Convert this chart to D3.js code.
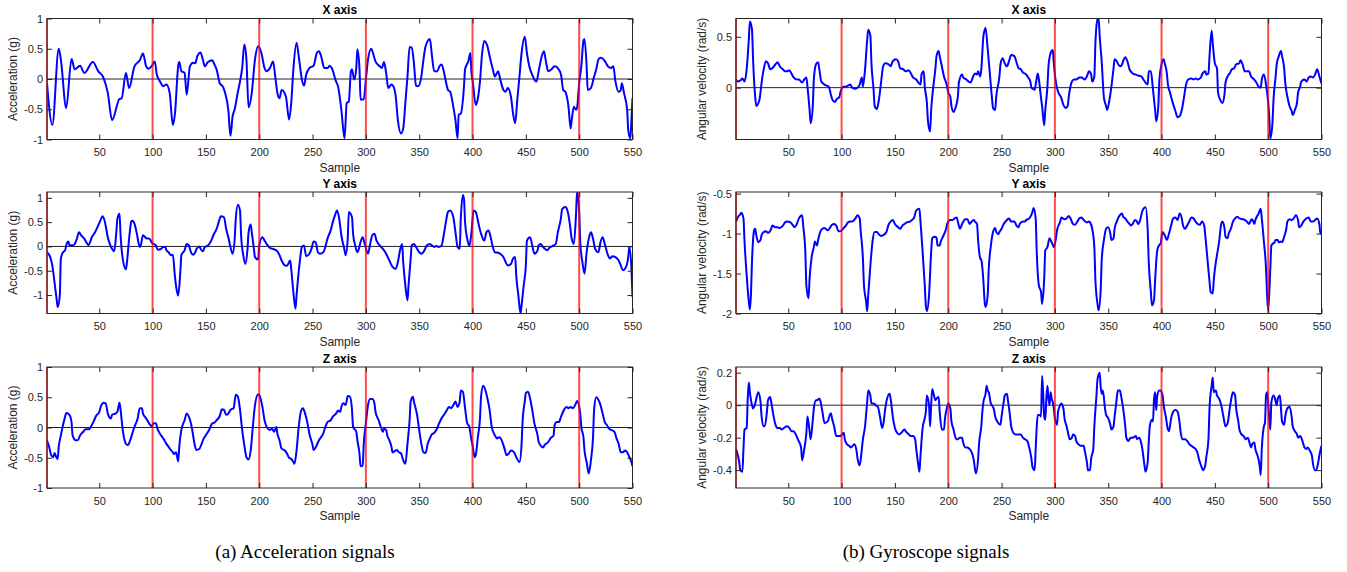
<!DOCTYPE html>
<meta charset="utf-8">
<script src="https://d3js.org/d3.v7.min.js"></script>
<style>
  body { margin: 0; background: #fff; }
  text { font-family: "Liberation Sans", Arial, sans-serif; fill: #262626; }
</style>
<div id="chart"></div>
<script>

// x axis ticks and the red markers where each stride starts
var sampleTicks = [50, 100, 150, 200, 250, 300, 350, 400, 450, 500, 550];
var strideStarts = [1, 100, 200, 300, 400, 500];

// y ticks of each panel
var accTicks = [-1, -0.5, 0, 0.5, 1];
var gyroXTicks = [0, 0.5];
var gyroYTicks = [-2, -1.5, -1, -0.5];
var gyroZTicks = [-0.4, -0.2, 0, 0.2];

// [sample, value]
var accX = [[1,-0.07],[6,-0.76],[12,0.5],[14,0.32],[19,-0.48],[24,0.33],[27,0.16],[32,0.22],[36,0.10],[44,0.28],[49,0.13],[54,0.02],[58,-0.23],[62,-0.68],[69,-0.33],[71,-0.32],[75,0.10],[78,-0.15],[83,0.21],[88,0.31],[91,0.42],[94,0.21],[96,0.17],[99,0.21],[102,0.29],[104,0.07],[107,-0.04],[110,-0.12],[113,-0.09],[116,-0.23],[119,-0.76],[121,-0.57],[124,0.21],[125,0.28],[127,0.13],[130,0.10],[132,-0.26],[135,0.21],[138,0.27],[140,0.26],[142,0.38],[145,0.44],[147,0.33],[149,0.21],[152,0.28],[156,0.31],[158,0.24],[160,0.16],[163,-0.07],[166,-0.13],[168,-0.23],[171,-0.51],[173,-0.94],[175,-0.62],[177,-0.5],[180,-0.21],[182,-0.04],[184,0.18],[186,0.57],[188,0.32],[190,-0.47],[193,-0.23],[196,0.32],[199,0.54],[202,0.43],[205,0.18],[207,0.13],[210,0.18],[213,0.29],[215,0.04],[217,-0.23],[219,-0.32],[221,-0.18],[225,-0.29],[228,-0.67],[230,-0.4],[232,0.16],[235,0.6],[237,0.38],[240,-0.01],[242,-0.11],[244,0.07],[247,0.18],[251,0.22],[254,0.43],[256,0.46],[258,0.38],[261,0.18],[264,0.18],[266,0.22],[268,0.18],[272,-0.04],[274,-0.13],[277,-0.51],[280,-0.98],[282,-0.4],[284,-0.37],[286,0.13],[287,0.16],[289,-0.01],[291,0.18],[292,0.49],[294,0.18],[295,-0.34],[298,-0.34],[300,-0.01],[302,0.32],[305,0.5],[307,0.41],[309,0.29],[313,0.21],[315,0.18],[317,0.28],[319,0.10],[321,-0.15],[324,-0.09],[326,-0.13],[328,-0.29],[330,-0.68],[333,-0.9],[335,-0.82],[337,-0.4],[339,0.04],[341,0.53],[343,0.52],[345,0.27],[347,-0.11],[349,-0.12],[352,0.04],[354,0.32],[356,0.54],[360,0.66],[362,0.38],[364,0.13],[367,0.13],[369,0.21],[371,0.24],[373,0.13],[375,-0.04],[377,-0.18],[379,-0.21],[382,-0.46],[384,-0.68],[386,-0.98],[387,-0.59],[389,-0.57],[392,-0.12],[393,0.16],[396,0.29],[398,0.43],[399,0.10],[400,-0.01],[403,-0.43],[404,-0.4],[407,-0.04],[409,0.43],[411,0.63],[414,0.54],[416,0.38],[419,0.16],[421,0.04],[424,0.13],[426,-0.01],[429,-0.18],[431,-0.21],[433,-0.15],[436,-0.29],[438,-0.57],[440,-0.73],[442,-0.34],[444,0.04],[446,0.43],[449,0.70],[451,0.43],[454,0.16],[456,0.07],[458,-0.01],[460,-0.04],[462,0.13],[465,0.38],[467,0.46],[469,0.27],[471,0.13],[474,0.16],[477,0.21],[480,0.18],[483,0.07],[485,-0.18],[487,-0.21],[490,-0.46],[492,-0.82],[493,-0.68],[495,-0.46],[497,-0.51],[498,-0.48],[500,-0.07],[502,0.21],[504,0.63],[505,0.66],[507,0.21],[508,-0.18],[511,-0.15],[514,0.04],[516,0.16],[518,0.32],[520,0.35],[523,0.32],[525,0.27],[527,0.21],[530,0.18],[532,0.21],[534,-0.04],[537,-0.21],[539,-0.18],[540,-0.07],[542,-0.23],[545,-0.51],[546,-0.84],[548,-0.98],[549,-0.68],[550,-0.32]];

var accY = [[1,-0.12],[4,-0.22],[6,-0.39],[8,-0.73],[10,-1.08],[11,-1.25],[13,-1.01],[14,-0.25],[16,-0.12],[18,-0.08],[19,0.02],[21,0.10],[22,0.03],[25,0.02],[27,0.05],[29,0.16],[31,0.29],[33,0.23],[36,0.16],[38,0.08],[40,0.03],[43,0.19],[46,0.29],[49,0.43],[51,0.53],[53,0.62],[55,0.53],[58,0.19],[62,-0.05],[64,-0.10],[66,0.29],[67,0.57],[69,0.67],[70,0.23],[72,-0.25],[75,-0.47],[76,-0.32],[78,0.16],[80,0.51],[81,0.53],[83,0.47],[85,0.29],[88,-0.01],[89,0.03],[91,0.23],[94,0.17],[97,0.16],[99,0.09],[101,0.05],[103,0.02],[105,-0.07],[108,-0.05],[110,-0.01],[112,-0.01],[113,-0.08],[115,-0.12],[117,-0.18],[119,-0.17],[121,-0.63],[123,-0.94],[124,-1.01],[126,-0.53],[127,-0.18],[130,-0.08],[132,0.05],[134,0.02],[136,-0.12],[138,-0.17],[140,-0.12],[141,-0.06],[144,0],[145,-0.05],[147,-0.10],[149,-0.01],[152,0.02],[155,0.12],[157,0.23],[160,0.36],[162,0.5],[164,0.62],[167,0.60],[169,0.36],[171,0.19],[173,-0.01],[175,-0.15],[177,0.16],[178,0.57],[180,0.86],[182,0.74],[183,0.23],[185,-0.18],[187,-0.36],[189,-0.05],[190,0.29],[192,0.45],[193,0.29],[195,-0.05],[196,-0.22],[199,-0.27],[200,0.02],[203,0.19],[205,0.12],[207,0.05],[210,-0.03],[214,-0.06],[217,-0.10],[219,-0.18],[221,-0.29],[224,-0.39],[226,-0.40],[229,-0.29],[230,-0.46],[232,-0.94],[234,-1.28],[235,-1.01],[238,-0.32],[240,-0.01],[242,0.02],[244,-0.2],[247,-0.15],[249,-0.05],[251,0.10],[253,0.08],[255,-0.12],[257,-0.15],[260,-0.12],[262,-0.01],[264,0.16],[267,0.33],[269,0.5],[271,0.64],[273,0.74],[275,0.57],[277,0.23],[280,-0.08],[281,-0.18],[283,0.16],[284,0.71],[287,0.60],[288,0.26],[290,0.02],[292,-0.12],[293,-0.08],[295,0.09],[297,0.19],[299,0.05],[302,-0.15],[304,0.05],[306,0.23],[308,0.26],[310,0.12],[313,0.02],[316,-0.05],[319,-0.15],[322,-0.29],[325,-0.42],[328,-0.46],[330,-0.32],[332,-0.08],[334,0.05],[335,-0.32],[337,-0.80],[339,-1.11],[340,-0.80],[342,-0.25],[343,0.02],[345,0.05],[347,-0.01],[350,-0.12],[352,-0.15],[355,-0.08],[357,0.02],[360,0.05],[362,0.02],[364,-0.01],[366,0.01],[368,-0.01],[371,0.02],[373,0.23],[375,0.5],[377,0.71],[379,0.74],[382,0.60],[384,0.29],[386,-0.01],[388,-0.05],[389,0.57],[391,1.06],[392,0.98],[393,0.5],[395,0.16],[397,0.01],[399,0.29],[401,0.74],[403,0.71],[406,0.43],[408,0.26],[411,0.12],[413,0.29],[415,0.33],[417,0.19],[419,-0.01],[421,-0.12],[424,-0.13],[426,-0.15],[429,-0.22],[431,-0.32],[433,-0.39],[436,-0.36],[438,-0.25],[440,-0.22],[441,-0.6],[443,-1.01],[445,-1.38],[446,-1.21],[448,-0.80],[450,-0.39],[451,0.12],[454,0.19],[456,0.02],[458,-0.15],[461,-0.08],[462,0.02],[464,0.05],[466,-0.01],[468,-0.05],[470,-0.08],[472,-0.03],[476,0.02],[478,0.05],[480,0.29],[483,0.60],[484,0.77],[487,0.81],[489,0.74],[491,0.5],[493,0.16],[495,0.05],[497,0.64],[498,1.12],[500,0.71],[501,0.09],[503,-0.32],[505,-0.56],[507,-0.12],[509,0.16],[511,0.29],[513,0.16],[515,-0.05],[518,-0.12],[520,0.09],[522,0.19],[524,0.05],[527,-0.18],[529,-0.25],[531,-0.2],[534,-0.22],[537,-0.29],[539,-0.39],[541,-0.49],[544,-0.42],[546,-0.22],[547,-0.01],[549,-0.46],[550,-1.04]];

var accZ = [[1,-0.21],[3,-0.32],[5,-0.46],[7,-0.49],[8,-0.42],[10,-0.5],[11,-0.52],[12,-0.32],[14,-0.13],[15,-0.04],[18,0.18],[19,0.24],[22,0.21],[24,0.09],[25,-0.13],[28,-0.21],[30,-0.21],[32,-0.13],[35,-0.07],[37,-0.03],[40,-0.03],[41,-0.02],[43,0.04],[45,0.11],[47,0.19],[50,0.26],[52,0.37],[54,0.41],[56,0.40],[58,0.23],[61,0.15],[62,0.21],[65,0.23],[67,0.26],[69,0.41],[70,0.29],[72,-0.04],[75,-0.27],[77,-0.29],[79,-0.21],[81,-0.1],[83,0.01],[86,0.15],[88,0.32],[90,0.32],[91,0.23],[94,0.15],[96,0.09],[99,0.02],[101,0.07],[103,0.07],[105,-0.04],[108,-0.13],[110,-0.18],[113,-0.27],[115,-0.32],[117,-0.37],[119,-0.41],[120,-0.44],[122,-0.41],[124,-0.56],[125,-0.32],[127,-0.04],[130,0.12],[132,0.23],[134,0.18],[137,-0.02],[139,-0.24],[141,-0.37],[144,-0.35],[146,-0.27],[148,-0.18],[151,-0.10],[153,-0.04],[156,0.07],[158,0.08],[160,0.12],[163,0.19],[165,0.3],[167,0.29],[169,0.21],[171,0.23],[173,0.29],[176,0.32],[178,0.54],[180,0.51],[182,0.29],[184,-0.04],[186,-0.29],[188,-0.49],[190,-0.53],[192,-0.38],[194,0.01],[196,0.37],[199,0.55],[200,0.54],[203,0.34],[205,0.12],[207,0.01],[210,-0.04],[212,-0.02],[214,-0.07],[216,0.01],[217,-0.10],[219,-0.21],[221,-0.35],[224,-0.38],[226,-0.43],[228,-0.5],[230,-0.52],[232,-0.57],[233,-0.6],[235,-0.38],[237,0.01],[239,0.26],[241,0.32],[243,0.23],[245,0.09],[247,-0.1],[250,-0.29],[251,-0.37],[254,-0.29],[256,-0.21],[258,-0.16],[260,-0.1],[262,0.01],[264,0.09],[267,0.12],[269,0.18],[272,0.23],[274,0.28],[276,0.26],[277,0.34],[279,0.4],[281,0.37],[283,0.52],[285,0.51],[287,0.29],[288,0.01],[291,-0.07],[292,-0.21],[294,-0.43],[295,-0.64],[297,-0.63],[298,-0.27],[300,0.07],[302,0.37],[304,0.47],[306,0.47],[308,0.4],[309,0.26],[312,0.12],[314,0.01],[316,-0.07],[317,-0.02],[319,-0.04],[320,-0.13],[322,-0.21],[324,-0.32],[325,-0.41],[327,-0.39],[329,-0.37],[331,-0.41],[333,-0.43],[335,-0.54],[337,-0.6],[339,-0.27],[341,0.12],[342,0.43],[344,0.51],[345,0.43],[348,0.21],[350,-0.04],[352,-0.27],[354,-0.41],[356,-0.42],[358,-0.27],[360,-0.18],[362,-0.11],[364,-0.09],[366,-0.04],[368,0.04],[370,0.12],[372,0.18],[374,0.23],[376,0.29],[378,0.34],[380,0.32],[382,0.37],[384,0.43],[386,0.34],[388,0.43],[389,0.61],[391,0.59],[393,0.32],[395,0.07],[397,0.01],[399,-0.21],[400,-0.29],[402,-0.49],[403,-0.46],[405,-0.16],[407,0.15],[408,0.51],[410,0.69],[412,0.62],[414,0.48],[416,0.29],[418,0.01],[421,-0.13],[423,-0.18],[425,-0.16],[428,-0.24],[430,-0.35],[432,-0.46],[434,-0.43],[436,-0.38],[439,-0.41],[441,-0.49],[444,-0.57],[446,-0.27],[447,0.12],[449,0.43],[450,0.57],[452,0.59],[454,0.48],[456,0.29],[458,0.07],[461,-0.13],[462,-0.24],[465,-0.32],[466,-0.33],[468,-0.28],[471,-0.24],[473,-0.18],[476,-0.13],[477,0.04],[479,0.09],[481,0.09],[483,0.18],[486,0.3],[488,0.34],[490,0.32],[492,0.34],[494,0.32],[497,0.4],[498,0.44],[501,0.23],[502,0.01],[504,-0.16],[505,-0.38],[507,-0.57],[509,-0.76],[511,-0.54],[513,-0.16],[514,0.29],[516,0.5],[518,0.46],[520,0.37],[522,0.23],[524,0.09],[526,0.04],[528,-0.02],[530,-0.04],[533,-0.07],[535,-0.18],[537,-0.27],[539,-0.41],[541,-0.41],[543,-0.38],[545,-0.41],[547,-0.49],[549,-0.57],[550,-0.64]];

var gyroX = [[1,0.08],[3,0.06],[5,0.07],[7,0.09],[9,0.06],[11,0.18],[13,0.47],[14,0.65],[16,0.57],[17,0.28],[19,-0.09],[20,-0.18],[23,-0.12],[25,0.05],[27,0.18],[29,0.26],[31,0.24],[33,0.18],[35,0.19],[38,0.23],[40,0.25],[42,0.21],[45,0.18],[47,0.16],[49,0.16],[51,0.17],[53,0.14],[55,0.10],[58,0.08],[60,0.08],[63,0.05],[65,0.08],[67,0.10],[68,0.01],[70,-0.22],[71,-0.35],[73,-0.18],[74,0.08],[76,0.23],[78,0.25],[79,0.19],[81,0.06],[84,0.03],[86,0.02],[88,0.01],[90,-0.07],[92,-0.13],[94,-0.14],[95,-0.12],[98,-0.09],[99,-0.04],[102,0.01],[104,0.01],[106,0.02],[108,0.03],[110,0.0],[113,-0.01],[115,0.0],[117,0.03],[119,0.10],[120,0.01],[122,0.18],[124,0.47],[125,0.57],[127,0.51],[128,0.24],[130,-0.02],[131,-0.18],[133,-0.21],[135,-0.12],[137,0.05],[139,0.21],[141,0.24],[144,0.23],[146,0.21],[148,0.26],[151,0.28],[153,0.26],[155,0.19],[158,0.18],[160,0.16],[163,0.17],[165,0.14],[167,0.10],[170,0.08],[172,0.05],[174,0.03],[175,0.13],[177,0.16],[178,0.01],[180,-0.15],[181,-0.33],[183,-0.43],[184,-0.22],[186,0.01],[188,0.19],[189,0.31],[191,0.36],[192,0.31],[194,0.21],[196,0.11],[199,0.01],[200,-0.05],[202,-0.09],[203,-0.18],[205,-0.24],[206,-0.22],[209,-0.09],[210,0.05],[213,0.13],[214,0.10],[217,0.08],[219,0.06],[221,0.05],[223,0.10],[225,0.14],[227,0.13],[228,0.16],[230,0.11],[231,0.18],[233,0.51],[234,0.56],[235,0.59],[237,0.38],[239,0.14],[241,-0.10],[242,-0.20],[244,-0.22],[245,-0.09],[248,0.11],[249,0.23],[251,0.29],[253,0.24],[255,0.21],[257,0.26],[259,0.32],[262,0.31],[264,0.25],[266,0.19],[268,0.18],[270,0.15],[273,0.13],[275,0.10],[277,0.06],[278,0.0],[281,-0.02],[282,0.03],[284,0.14],[285,0.08],[287,-0.10],[288,-0.18],[290,-0.37],[291,-0.22],[293,0.01],[294,0.21],[296,0.34],[298,0.37],[299,0.24],[301,0.05],[303,-0.04],[306,-0.10],[308,-0.17],[310,-0.20],[312,-0.18],[313,-0.09],[316,0.06],[318,0.08],[320,0.08],[323,0.10],[325,0.10],[328,0.08],[330,0.11],[332,0.16],[334,0.13],[335,0.06],[337,0.11],[338,0.44],[340,0.67],[341,0.68],[342,0.51],[344,0.24],[346,-0.10],[348,-0.18],[349,-0.22],[351,-0.13],[353,0.01],[355,0.19],[356,0.28],[358,0.26],[360,0.22],[362,0.21],[364,0.26],[366,0.30],[368,0.26],[370,0.18],[373,0.14],[375,0.13],[378,0.12],[381,0.11],[383,0.08],[385,0.05],[387,0.03],[388,0.16],[390,0.16],[392,-0.02],[394,-0.22],[395,-0.33],[397,-0.18],[398,0.08],[400,0.23],[402,0.28],[403,0.24],[405,0.14],[406,0.03],[408,-0.05],[410,-0.13],[413,-0.23],[415,-0.29],[417,-0.28],[419,-0.22],[421,-0.10],[423,0.03],[425,0.08],[428,0.09],[430,0.08],[432,0.09],[434,0.08],[437,0.10],[438,0.13],[441,0.16],[442,0.13],[444,0.14],[445,0.31],[447,0.56],[448,0.44],[450,0.24],[452,0.19],[453,-0.05],[455,-0.12],[457,-0.15],[459,-0.07],[460,0.05],[463,0.13],[464,0.14],[466,0.18],[468,0.19],[470,0.23],[473,0.24],[474,0.27],[476,0.23],[478,0.16],[480,0.16],[482,0.16],[484,0.11],[487,0.08],[489,0.05],[491,0.01],[493,0.0],[494,0.08],[496,0.13],[498,0.03],[499,-0.05],[501,-0.28],[502,-0.50],[504,-0.35],[505,-0.12],[507,0.11],[508,0.23],[510,0.31],[512,0.36],[513,0.31],[515,0.19],[516,0.05],[518,-0.09],[520,-0.18],[522,-0.23],[523,-0.27],[525,-0.22],[527,-0.15],[528,-0.05],[530,0.01],[531,0.06],[534,0.08],[536,0.06],[538,0.10],[540,0.11],[542,0.10],[544,0.13],[546,0.18],[548,0.11],[550,0.04]];

var gyroY = [[1,-0.85],[3,-0.79],[5,-0.76],[6,-0.74],[8,-0.81],[9,-1.10],[11,-1.52],[13,-1.85],[14,-1.95],[15,-1.77],[16,-1.35],[18,-0.96],[19,-0.94],[20,-1.02],[22,-1.11],[24,-1.08],[25,-1.02],[27,-0.98],[29,-0.97],[31,-0.99],[34,-0.94],[35,-0.90],[38,-0.92],[40,-0.92],[42,-0.93],[45,-0.90],[47,-0.86],[49,-0.85],[52,-0.86],[54,-0.89],[56,-0.92],[58,-0.88],[60,-0.81],[63,-0.77],[64,-0.90],[66,-1.23],[67,-1.65],[69,-1.81],[70,-1.56],[72,-1.29],[74,-1.17],[75,-1.10],[77,-1.15],[78,-1.08],[80,-0.98],[82,-0.94],[84,-0.93],[87,-0.96],[89,-0.93],[91,-0.89],[93,-0.88],[95,-0.90],[97,-0.97],[99,-0.97],[100,-0.96],[102,-0.93],[104,-0.90],[106,-0.86],[108,-0.85],[110,-0.85],[113,-0.81],[115,-0.77],[117,-0.81],[118,-0.98],[120,-1.31],[121,-1.65],[123,-1.85],[124,-1.97],[125,-1.77],[127,-1.40],[129,-1.10],[131,-0.98],[133,-0.98],[135,-1.01],[137,-1.03],[139,-1.02],[142,-0.98],[144,-0.89],[146,-0.85],[148,-0.83],[150,-0.88],[153,-0.92],[155,-0.94],[157,-0.90],[159,-0.88],[161,-0.86],[164,-0.85],[166,-0.83],[168,-0.80],[170,-0.71],[173,-0.69],[174,-0.85],[176,-1.23],[178,-1.65],[179,-1.90],[180,-1.97],[182,-1.77],[184,-1.23],[185,-1.06],[187,-1.04],[189,-1.05],[190,-1.15],[192,-1.15],[193,-1.10],[195,-1.04],[198,-0.94],[199,-0.88],[202,-0.83],[204,-0.83],[206,-0.81],[208,-0.80],[209,-0.85],[211,-0.94],[213,-0.88],[216,-0.82],[218,-0.82],[220,-0.88],[222,-0.85],[224,-0.83],[225,-0.85],[227,-0.88],[228,-1.08],[230,-1.31],[231,-1.33],[233,-1.60],[234,-1.83],[235,-1.92],[237,-1.77],[238,-1.44],[240,-1.15],[242,-0.98],[244,-0.93],[245,-0.98],[247,-1.01],[248,-0.98],[250,-0.94],[252,-0.88],[255,-0.83],[257,-0.81],[259,-0.85],[262,-0.85],[264,-0.90],[266,-0.92],[267,-0.88],[270,-0.85],[272,-0.85],[273,-0.83],[276,-0.81],[279,-0.73],[280,-0.68],[282,-0.81],[283,-1.23],[285,-1.65],[287,-1.73],[288,-1.88],[290,-1.56],[291,-1.21],[293,-1.17],[295,-1.06],[296,-1.08],[298,-1.14],[299,-1.17],[301,-1.06],[302,-0.96],[305,-0.85],[306,-0.80],[309,-0.82],[311,-0.81],[313,-0.78],[315,-0.82],[317,-0.88],[319,-0.89],[321,-0.85],[323,-0.81],[325,-0.80],[327,-0.83],[330,-0.86],[332,-0.85],[333,-0.86],[335,-0.94],[337,-1.17],[338,-1.58],[340,-1.88],[341,-1.96],[343,-1.69],[344,-1.31],[346,-1.08],[348,-0.94],[350,-0.92],[352,-1.00],[353,-1.08],[355,-1.06],[356,-0.94],[358,-0.85],[360,-0.79],[363,-0.75],[364,-0.79],[366,-0.81],[368,-0.85],[370,-0.88],[371,-0.90],[373,-0.88],[375,-0.83],[377,-0.85],[378,-0.88],[380,-0.83],[381,-0.77],[383,-0.69],[385,-0.67],[387,-0.94],[388,-1.35],[390,-1.73],[391,-1.90],[393,-1.83],[394,-1.58],[396,-1.21],[398,-1.14],[399,-1.13],[401,-0.98],[403,-1.02],[405,-1.08],[407,-1.00],[409,-0.90],[411,-0.81],[413,-0.80],[415,-0.83],[417,-0.75],[419,-0.81],[420,-0.89],[422,-0.94],[424,-0.90],[426,-0.85],[428,-0.80],[430,-0.81],[432,-0.85],[434,-0.88],[436,-0.89],[438,-0.85],[440,-0.90],[441,-1.02],[443,-1.31],[445,-1.60],[446,-1.73],[448,-1.75],[449,-1.58],[451,-1.35],[452,-1.27],[454,-1.10],[456,-0.88],[457,-0.85],[459,-0.93],[460,-1.04],[462,-1.06],[463,-1.00],[465,-0.94],[467,-0.85],[469,-0.81],[471,-0.79],[473,-0.81],[476,-0.82],[478,-0.83],[480,-0.85],[482,-0.88],[484,-0.83],[485,-0.82],[487,-0.88],[488,-0.83],[491,-0.75],[493,-0.69],[494,-0.81],[496,-1.10],[498,-1.44],[499,-1.77],[500,-1.96],[502,-1.44],[503,-1.15],[504,-1.13],[506,-1.11],[507,-1.08],[509,-1.08],[510,-1.11],[512,-1.10],[513,-1.11],[515,-1.04],[517,-0.94],[518,-0.85],[520,-0.82],[522,-0.83],[524,-0.81],[526,-0.77],[528,-0.83],[529,-0.92],[531,-0.90],[533,-0.85],[535,-0.82],[538,-0.80],[540,-0.85],[542,-0.85],[544,-0.83],[546,-0.81],[548,-0.88],[549,-1.00],[550,-1.00]];

var gyroZ = [[1,-0.27],[2,-0.29],[4,-0.35],[5,-0.40],[7,-0.41],[8,-0.27],[9,-0.15],[11,-0.14],[12,0.04],[13,0.14],[14,0.08],[16,0.0],[17,-0.02],[19,0.01],[20,0.04],[22,0.08],[24,0.02],[25,-0.07],[27,-0.13],[28,-0.13],[30,-0.04],[31,0.03],[33,0.05],[34,0.02],[36,-0.06],[38,-0.12],[40,-0.14],[42,-0.14],[44,-0.15],[46,-0.14],[49,-0.13],[51,-0.14],[53,-0.16],[55,-0.16],[57,-0.18],[59,-0.21],[62,-0.26],[63,-0.34],[65,-0.27],[67,-0.17],[68,-0.07],[70,-0.16],[71,-0.21],[73,-0.09],[74,-0.02],[76,0.03],[77,0.03],[79,0.04],[80,0.03],[82,-0.04],[84,-0.11],[87,-0.10],[89,-0.06],[90,-0.05],[91,-0.08],[93,-0.13],[95,-0.19],[97,-0.19],[99,-0.19],[102,-0.17],[103,-0.21],[105,-0.24],[107,-0.25],[109,-0.26],[112,-0.24],[114,-0.28],[115,-0.33],[117,-0.37],[118,-0.33],[120,-0.21],[122,-0.13],[124,0.02],[125,0.09],[127,0.06],[128,0.01],[130,0.01],[132,0.0],[134,-0.01],[136,-0.07],[138,-0.14],[139,-0.12],[141,-0.02],[142,0.02],[145,0.07],[146,0.04],[148,-0.07],[150,-0.14],[152,-0.17],[154,-0.18],[156,-0.17],[159,-0.15],[160,-0.16],[163,-0.18],[165,-0.19],[167,-0.19],[169,-0.21],[170,-0.27],[172,-0.37],[173,-0.41],[174,-0.31],[176,-0.14],[178,-0.08],[179,-0.04],[180,0.06],[182,0.0],[183,-0.13],[184,0.0],[185,0.10],[186,0.08],[188,0.03],[189,0.04],[191,0.05],[192,-0.04],[194,-0.15],[196,-0.15],[197,-0.08],[199,-0.01],[200,0.01],[202,-0.02],[203,-0.10],[205,-0.15],[206,-0.18],[208,-0.21],[209,-0.21],[211,-0.20],[213,-0.20],[214,-0.23],[216,-0.26],[218,-0.26],[220,-0.27],[222,-0.29],[224,-0.34],[225,-0.39],[226,-0.42],[228,-0.33],[229,-0.23],[231,-0.13],[232,-0.04],[233,0.02],[235,0.07],[236,0.12],[237,0.09],[238,0.08],[240,0.01],[241,0.0],[243,-0.03],[244,-0.07],[246,-0.10],[249,-0.12],[250,-0.07],[252,0.02],[253,0.06],[255,0.07],[256,0.03],[258,-0.07],[259,-0.13],[261,-0.17],[263,-0.18],[266,-0.18],[268,-0.18],[270,-0.20],[272,-0.21],[274,-0.22],[276,-0.26],[278,-0.33],[279,-0.38],[281,-0.40],[282,-0.27],[283,-0.13],[284,-0.06],[286,-0.06],[287,-0.07],[288,0.18],[289,0.08],[290,-0.07],[291,-0.09],[292,0.04],[293,0.12],[294,0.04],[295,0.0],[296,0.08],[297,0.04],[298,0.02],[299,-0.02],[300,-0.08],[302,-0.12],[303,-0.04],[305,0.0],[306,0.01],[308,-0.02],[309,-0.08],[311,-0.13],[313,-0.19],[314,-0.21],[316,-0.20],[317,-0.18],[319,-0.19],[320,-0.22],[322,-0.24],[324,-0.25],[327,-0.25],[328,-0.28],[330,-0.35],[331,-0.40],[333,-0.40],[334,-0.33],[336,-0.27],[337,-0.13],[339,0.06],[340,0.16],[342,0.20],[343,0.11],[344,0.07],[345,0.09],[347,-0.02],[348,-0.06],[350,-0.08],[352,-0.12],[353,-0.15],[355,-0.13],[356,-0.07],[358,0.04],[359,0.09],[361,0.09],[362,0.06],[364,-0.02],[366,-0.13],[367,-0.20],[369,-0.22],[371,-0.20],[373,-0.20],[376,-0.19],[377,-0.21],[379,-0.20],[380,-0.21],[382,-0.27],[384,-0.37],[385,-0.41],[387,-0.35],[388,-0.23],[389,-0.13],[391,-0.09],[392,-0.10],[393,0.04],[394,0.08],[395,-0.03],[396,0.06],[398,0.09],[399,0.09],[401,0.06],[402,0.0],[404,-0.07],[406,-0.15],[407,-0.16],[409,-0.08],[411,-0.04],[413,-0.03],[415,-0.04],[417,-0.11],[418,-0.17],[420,-0.21],[422,-0.21],[424,-0.22],[426,-0.24],[428,-0.25],[430,-0.26],[432,-0.27],[434,-0.30],[435,-0.33],[437,-0.37],[439,-0.40],[441,-0.37],[442,-0.32],[444,-0.21],[445,-0.02],[447,0.12],[448,0.17],[449,0.08],[451,0.09],[452,0.06],[454,0.04],[456,0.0],[458,-0.07],[460,-0.13],[462,-0.11],[464,-0.02],[466,0.06],[467,0.08],[469,0.06],[470,-0.02],[472,-0.10],[473,-0.15],[475,-0.18],[477,-0.19],[479,-0.21],[481,-0.20],[482,-0.22],[484,-0.26],[485,-0.24],[487,-0.23],[488,-0.27],[490,-0.31],[492,-0.37],[493,-0.43],[494,-0.27],[496,-0.13],[497,-0.11],[498,0.06],[499,0.08],[501,-0.08],[502,-0.15],[503,0.02],[505,0.06],[506,0.05],[508,0.0],[509,0.04],[511,0.06],[512,-0.02],[513,-0.10],[515,-0.12],[516,-0.07],[518,-0.02],[520,-0.01],[522,-0.07],[523,-0.13],[525,-0.16],[527,-0.18],[528,-0.20],[530,-0.19],[531,-0.20],[533,-0.24],[534,-0.26],[536,-0.27],[537,-0.26],[539,-0.28],[541,-0.31],[542,-0.36],[544,-0.40],[545,-0.40],[547,-0.35],[548,-0.31],[550,-0.25]];

var width = 1347, height = 572;

var svg = d3.select("#chart").append("svg")
    .attr("width", width)
    .attr("height", height);

// two columns (acc / gyro), three rows (x / y / z)
var cols = [
  {left: 47, right: 632.5, ylabel: "Acceleration (g)", labelX: 13, caption: "(a) Acceleration signals", capX: 305},
  {left: 736, right: 1321.5, ylabel: "Angular velocity (rad/s)", labelX: 702, caption: "(b) Gyroscope signals", capX: 926}
];
var rows = [
  {top: 18.5, bottom: 139.5, title: "X axis"},
  {top: 192, bottom: 313.5, title: "Y axis"},
  {top: 367, bottom: 488, title: "Z axis"}
];

var panels = [
  {col: 0, row: 0, data: accX, domain: [-1, 1], ticks: accTicks},
  {col: 0, row: 1, data: accY, domain: [-1.38, 1.12], ticks: accTicks},
  {col: 0, row: 2, data: accZ, domain: [-1, 1], ticks: accTicks},
  {col: 1, row: 0, data: gyroX, domain: [-0.51, 0.68], ticks: gyroXTicks},
  {col: 1, row: 1, data: gyroY, domain: [-2, -0.48], ticks: gyroYTicks},
  {col: 1, row: 2, data: gyroZ, domain: [-0.51, 0.235], ticks: gyroZTicks}
];

var tickLen = 5;

panels.forEach(function(p, i) {
  var c = cols[p.col], r = rows[p.row];
  var x = d3.scaleLinear().domain([1, 550]).range([c.left, c.right]);
  var y = d3.scaleLinear().domain(p.domain).range([r.bottom, r.top]);
  var g = svg.append("g");

  g.append("clipPath").attr("id", "clip" + i)
    .append("rect")
      .attr("x", c.left).attr("y", r.top)
      .attr("width", c.right - c.left).attr("height", r.bottom - r.top);

  // zero line
  if (p.domain[0] < 0 && p.domain[1] > 0) {
    g.append("line")
      .attr("x1", c.left).attr("x2", c.right)
      .attr("y1", y(0)).attr("y2", y(0))
      .attr("stroke", "#222").attr("stroke-width", 1);
  }

  // the signal
  var line = d3.line()
    .x(function(d) { return x(d[0]); })
    .y(function(d) { return y(d[1]); })
    .curve(d3.curveMonotoneX);
  g.append("path")
    .datum(p.data)
    .attr("clip-path", "url(#clip" + i + ")")
    .attr("d", line)
    .attr("fill", "none")
    .attr("stroke", "#0000ff")
    .attr("stroke-width", 2)
    .attr("stroke-linejoin", "round");

  // stride markers
  g.selectAll("line.stride")
    .data(strideStarts)
    .enter()
    .append("line")
      .attr("class", "stride")
      .attr("x1", function(d) { return x(d); })
      .attr("x2", function(d) { return x(d); })
      .attr("y1", r.top).attr("y2", r.bottom)
      .attr("stroke", "#ff0000")
      .attr("stroke-opacity", 0.7)
      .attr("stroke-width", 2);

  // axes, ticks pointing inwards
  g.append("g")
    .attr("transform", "translate(0," + r.bottom + ")")
    .call(d3.axisBottom(x).tickValues(sampleTicks).tickSizeInner(-tickLen).tickSizeOuter(0).tickPadding(9))
    .call(function(a) { a.select(".domain").remove(); });
  g.append("g")
    .attr("transform", "translate(0," + r.top + ")")
    .call(d3.axisTop(x).tickValues(sampleTicks).tickSizeInner(-tickLen).tickSizeOuter(0).tickFormat(""))
    .call(function(a) { a.select(".domain").remove(); });
  g.append("g")
    .attr("transform", "translate(" + c.left + ",0)")
    .call(d3.axisLeft(y).tickValues(p.ticks).tickSizeInner(-tickLen).tickSizeOuter(0).tickPadding(4)
      .tickFormat(function(d) { return String(d); }))
    .call(function(a) { a.select(".domain").remove(); });
  g.append("g")
    .attr("transform", "translate(" + c.right + ",0)")
    .call(d3.axisRight(y).tickValues(p.ticks).tickSizeInner(-tickLen).tickSizeOuter(0).tickFormat(""))
    .call(function(a) { a.select(".domain").remove(); });

  g.selectAll(".tick line").attr("stroke", "#262626");
  g.selectAll(".tick text").attr("font-size", 11).attr("font-family", "Liberation Sans, Arial, sans-serif").attr("fill", "#262626");

  // box
  g.append("rect")
    .attr("x", c.left).attr("y", r.top)
    .attr("width", c.right - c.left).attr("height", r.bottom - r.top)
    .attr("fill", "none").attr("stroke", "#262626").attr("stroke-width", 1);

  var mid = (c.left + c.right) / 2;

  g.append("text")
    .attr("x", mid).attr("y", r.top - 4.5)
    .attr("text-anchor", "middle")
    .style("font-size", "12px").style("font-weight", "bold").style("fill", "#000")
    .text(r.title);

  g.append("text")
    .attr("x", mid).attr("y", r.bottom + 32)
    .attr("text-anchor", "middle")
    .style("font-size", "12px")
    .text("Sample");

  g.append("text")
    .attr("transform", "translate(" + c.labelX + "," + (r.top + r.bottom) / 2 + ") rotate(-90)")
    .attr("dy", "0.35em")
    .attr("text-anchor", "middle")
    .style("font-size", "12px")
    .text(c.ylabel);
});

// sub-figure captions
svg.selectAll("text.caption")
  .data(cols)
  .enter()
  .append("text")
    .attr("class", "caption")
    .attr("x", function(d) { return d.capX; })
    .attr("y", 558)
    .attr("text-anchor", "middle")
    .style("font-family", "Liberation Serif, Times New Roman, serif")
    .style("font-size", "19px")
    .style("fill", "#000")
    .text(function(d) { return d.caption; });

</script>
